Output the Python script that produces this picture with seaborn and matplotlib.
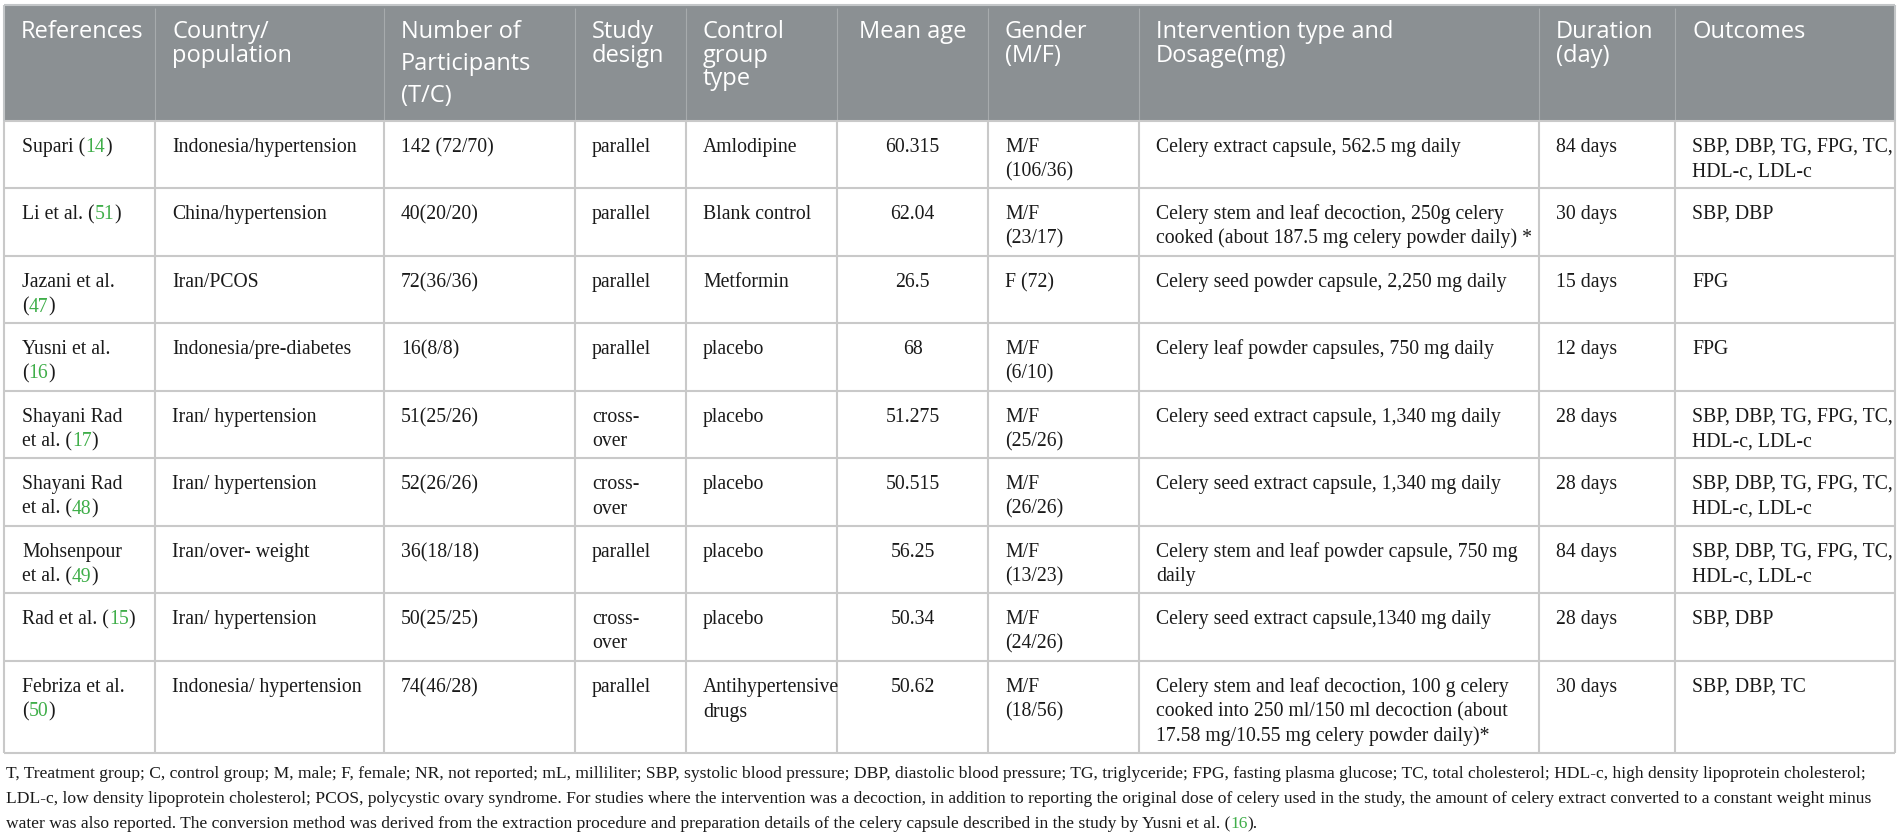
"""
Table recreation: celery intervention studies summary
"""

import re
import matplotlib
matplotlib.use("Agg")
import matplotlib.pyplot as plt
from matplotlib.patches import Rectangle
import seaborn as sns

sns.set_theme(style="white")
plt.rcParams['font.family'] = ['Liberation Serif', 'DejaVu Serif']

# ---- table content ----
headers = ["References", "Country/\npopulation", "Number of\nParticipants\n(T/C)", "Study\ndesign",
           "Control\ngroup\ntype", "Mean age", "Gender\n(M/F)", "Intervention type and\nDosage(mg)",
           "Duration\n(day)", "Outcomes"]

ref_labels = ["Supari ({})", "Li et al. ({})", "Jazani et al.\n({})", "Yusni et al.\n({})",
              "Shayani Rad\net al. ({})", "Shayani Rad\net al. ({})", "Mohsenpour\net al. ({})",
              "Rad et al. ({})", "Febriza et al.\n({})"]
ref_nums = [14, 51, 47, 16, 17, 48, 49, 15, 50]

countries = ["Indonesia/hypertension", "China/hypertension", "Iran/PCOS", "Indonesia/pre-diabetes",
             "Iran/ hypertension", "Iran/ hypertension", "Iran/over- weight", "Iran/ hypertension",
             "Indonesia/ hypertension"]
participants = ["142 (72/70)", "40(20/20)", "72(36/36)", "16(8/8)", "51(25/26)", "52(26/26)",
                "36(18/18)", "50(25/25)", "74(46/28)"]
designs = ["parallel", "parallel", "parallel", "parallel", "cross-\nover", "cross-\nover",
           "parallel", "cross-\nover", "parallel"]
controls = ["Amlodipine", "Blank control", "Metformin", "placebo", "placebo", "placebo",
            "placebo", "placebo", "Antihypertensive\ndrugs"]
mean_ages = ["60.315", "62.04", "26.5", "68", "51.275", "50.515", "56.25", "50.34", "50.62"]
genders = ["M/F\n(106/36)", "M/F\n(23/17)", "F (72)", "M/F\n(6/10)", "M/F\n(25/26)",
           "M/F\n(26/26)", "M/F\n(13/23)", "M/F\n(24/26)", "M/F\n(18/56)"]
interventions = [
    "Celery extract capsule, 562.5 mg daily",
    "Celery stem and leaf decoction, 250g celery\ncooked (about 187.5 mg celery powder daily) *",
    "Celery seed powder capsule, 2,250 mg daily",
    "Celery leaf powder capsules, 750 mg daily",
    "Celery seed extract capsule, 1,340 mg daily",
    "Celery seed extract capsule, 1,340 mg daily",
    "Celery stem and leaf powder capsule, 750 mg\ndaily",
    "Celery seed extract capsule,1340 mg daily",
    "Celery stem and leaf decoction, 100 g celery\ncooked into 250 ml/150 ml decoction (about\n"
    "17.58 mg/10.55 mg celery powder daily)*",
]
durations = ["84 days", "30 days", "15 days", "12 days", "28 days", "28 days", "84 days",
             "28 days", "30 days"]
full_outcomes = "SBP, DBP, TG, FPG, TC,\nHDL-c, LDL-c"
outcomes = [full_outcomes, "SBP, DBP", "FPG", "FPG", full_outcomes, full_outcomes,
            full_outcomes, "SBP, DBP", "SBP, DBP, TC"]

footnote = [
    "T, Treatment group; C, control group; M, male; F, female; NR, not reported; mL, milliliter; "
    "SBP, systolic blood pressure; DBP, diastolic blood pressure; TG, triglyceride; FPG, fasting plasma "
    "glucose; TC, total cholesterol; HDL-c, high density lipoprotein cholesterol;",
    "LDL-c, low density lipoprotein cholesterol; PCOS, polycystic ovary syndrome. For studies where the "
    "intervention was a decoction, in addition to reporting the original dose of celery used in the study, "
    "the amount of celery extract converted to a constant weight minus",
    "water was also reported. The conversion method was derived from the extraction procedure and "
    "preparation details of the celery capsule described in the study by Yusni et al. (16).",
]

# ---- layout ----
col_edges = [4, 155, 384, 575, 686, 837, 988, 1139, 1539, 1675, 1895]
row_edges = [5, 121, 188, 256, 323, 391, 458, 526, 593, 661, 753]
centered_cols = {5}

HEADER_BG = "#8b9093"
HEADER_SEP = "#a7abad"
GRID = "#c9c9c9"
GREEN = "#3fae49"
TEXT = "#1a1a1a"

BODY_SIZE = 14.2
FOOT_SIZE = 12.6
HEAD_SIZE = 17
PAD = 17

fig = plt.figure(figsize=(19, 8.36), dpi=100)
ax = fig.add_axes([0, 0, 1, 1])
ax.set_xlim(0, 1900)
ax.set_ylim(836, 0)
ax.axis("off")
renderer = fig.canvas.get_renderer()


def text_width(s, size):
    # width of the string including trailing spacing, via a marker glyph
    t1 = ax.text(0, 0, s + "|", fontsize=size)
    t2 = ax.text(0, 0, "|", fontsize=size)
    w = t1.get_window_extent(renderer).width - t2.get_window_extent(renderer).width
    t1.remove()
    t2.remove()
    return w


def draw_rich(x, y, line, size, ha="left"):
    """Draw one line, colouring reference numbers like (14) in green."""
    matches = list(re.finditer(r"\((\d+)\)", line))
    if not matches:
        ax.text(x, y, line, fontsize=size, color=TEXT, ha=ha, va="baseline")
        return
    # full line in black, then green digits over a white-free overlay by position
    cuts = [0]
    colors = []
    for m in matches:
        cuts += [m.start(1), m.end(1)]
    cuts.append(len(line))
    for a, b in zip(cuts[:-1], cuts[1:]):
        if b <= a:
            continue
        seg = line[a:b]
        col = GREEN if seg.isdigit() and a > 0 and line[a - 1] == "(" else TEXT
        ax.text(x + text_width(line[:a], size) if a else x, y, seg, fontsize=size,
                color=col, ha="left", va="baseline")


# header background
ax.add_patch(Rectangle((col_edges[0], row_edges[0]), col_edges[-1] - col_edges[0],
                       row_edges[1] - row_edges[0], facecolor=HEADER_BG, edgecolor="none"))
ax.vlines(col_edges[1:-1], row_edges[0] + 3, row_edges[1], color=HEADER_SEP, lw=0.8)

# body grid
ax.hlines(row_edges[1:], col_edges[0], col_edges[-1], color=GRID, lw=1.5)
ax.vlines(col_edges, row_edges[1], row_edges[-1], color=GRID, lw=1.5)
ax.hlines(row_edges[0], col_edges[0], col_edges[-1], color="#c3c6c8", lw=1.5)
ax.vlines([col_edges[0], col_edges[-1]], row_edges[0], row_edges[1], color="#c3c6c8", lw=1.5)

# header text
for j, h in enumerate(headers):
    spacing = 32 if h.startswith("Number") else 23.5
    for k, ln in enumerate(h.split("\n")):
        if j in centered_cols:
            x, ha = (col_edges[j] + col_edges[j + 1]) / 2, "center"
        else:
            x, ha = col_edges[j] + PAD, "left"
        ax.text(x, row_edges[0] + 33 + k * spacing, ln, fontsize=HEAD_SIZE, color="white",
                ha=ha, va="baseline", family=["Open Sans", "DejaVu Sans"])

# body text
refs = [lab.format(n) for lab, n in zip(ref_labels, ref_nums)]
columns = [refs, countries, participants, designs, controls, mean_ages, genders,
           interventions, durations, outcomes]
for j, col in enumerate(columns):
    for i, cell in enumerate(col):
        top = row_edges[i + 1]
        for k, ln in enumerate(cell.split("\n")):
            y = top + 31 + k * 24.5
            if j in centered_cols:
                ax.text((col_edges[j] + col_edges[j + 1]) / 2, y, ln, fontsize=BODY_SIZE,
                        color=TEXT, ha="center", va="baseline")
            elif j == 0:
                draw_rich(col_edges[j] + PAD + 1, y, ln, BODY_SIZE)
            else:
                ax.text(col_edges[j] + PAD, y, ln, fontsize=BODY_SIZE, color=TEXT,
                        ha="left", va="baseline")

# footnote
for k, ln in enumerate(footnote):
    draw_rich(6, row_edges[-1] + 25 + k * 25, ln, FOOT_SIZE)

fig.savefig("out.png", dpi=100, facecolor="white")
plt.close(fig)
